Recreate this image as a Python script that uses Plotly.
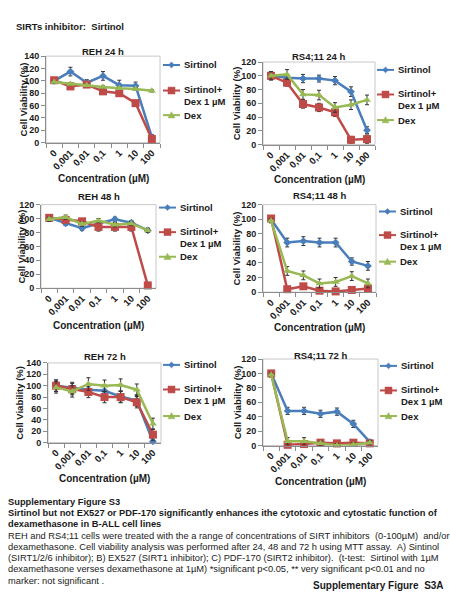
import plotly.graph_objects as go

W, H = 450, 600

# ---------------- data ----------------
concentrations = ["0", "0,001", "0,01", "0,1", "1", "10", "100"]
series_names = ["Sirtinol", "Sirtinol+<br>Dex 1 µM", "Dex"]

reh24_sirt = [100, 115, 97, 108, 93, 92, 9]
reh24_sirt_err = [3, 7, 5, 7, 8, 6, 4]
reh24_combo = [101, 91, 94, 83, 80, 64, 6]
reh24_combo_err = [3, 3, 3, 3, 3, 3, 3]
reh24_dex = [98, 95, 93, 90, 88, 87, 84]
reh24_dex_err = [2, 2, 2, 2, 2, 2, 2]

rs24_sirt = [100, 97, 96, 96, 93, 77, 21]
rs24_sirt_err = [6, 5, 6, 5, 6, 7, 5]
rs24_combo = [100, 90, 59, 54, 47, 7, 8]
rs24_combo_err = [5, 5, 6, 6, 6, 5, 6]
rs24_dex = [100, 102, 73, 72, 54, 58, 65]
rs24_dex_err = [6, 7, 7, 7, 7, 7, 7]

reh48_sirt = [101, 93, 86, 93, 99, 94, 83]
reh48_sirt_err = [3, 3, 3, 3, 3, 3, 3]
reh48_combo = [101, 98, 96, 88, 88, 88, 4]
reh48_combo_err = [3, 3, 3, 6, 6, 6, 3]
reh48_dex = [99, 102, 92, 97, 91, 93, 83]
reh48_dex_err = [3, 3, 3, 3, 3, 3, 3]

rs48_sirt = [100, 68, 70, 68, 68, 42, 36]
rs48_sirt_err = [4, 6, 6, 6, 6, 5, 6]
rs48_combo = [101, 4, 8, 2, 1, 3, 5]
rs48_combo_err = [3, 2, 2, 2, 2, 2, 2]
rs48_dex = [98, 29, 23, 12, 14, 22, 12]
rs48_dex_err = [3, 6, 6, 6, 6, 6, 6]

reh72_sirt = [100, 96, 93, 91, 81, 74, 2]
reh72_sirt_err = [10, 10, 10, 10, 10, 10, 3]
reh72_combo = [100, 94, 89, 80, 80, 71, 14]
reh72_combo_err = [10, 10, 10, 10, 10, 10, 10]
reh72_dex = [97, 90, 103, 100, 101, 93, 33]
reh72_dex_err = [10, 10, 11, 10, 11, 10, 10]

rs72_sirt = [100, 48, 48, 44, 47, 30, 5]
rs72_sirt_err = [3, 5, 5, 5, 5, 5, 3]
rs72_combo = [100, 1, 2, 4, 3, 4, 3]
rs72_combo_err = [2, 2, 2, 2, 2, 2, 2]
rs72_dex = [98, 6, 6, 3, 0, 1, 4]
rs72_dex_err = [3, 5, 5, 3, 3, 3, 3]

# ---------------- styling ----------------
COLORS = ["#4A7EBB", "#BE4B48", "#98B954"]
SYMBOLS = ["diamond", "square", "triangle-up"]
MSIZES = [6, 8, 7]
FONT = "Arial, Liberation Sans, sans-serif"
TXT = "#1a1a1a"

panels = [
    dict(title="REH 24 h", data=[(reh24_sirt, reh24_sirt_err), (reh24_combo, reh24_combo_err), (reh24_dex, reh24_dex_err)],
         ymax=140, box=(46, 160, 52, 140), ty=47, yt=23, xt=176, lx=163, ly=(61, 87, 112)),
    dict(title="RS4;11 24 h", data=[(rs24_sirt, rs24_sirt_err), (rs24_combo, rs24_combo_err), (rs24_dex, rs24_dex_err)],
         ymax=120, box=(263, 375, 58, 142), ty=52, yt=236, xt=177, lx=377, ly=(66, 91, 117)),
    dict(title="REH 48 h", data=[(reh48_sirt, reh48_sirt_err), (reh48_combo, reh48_combo_err), (reh48_dex, reh48_dex_err)],
         ymax=120, box=(41, 156, 203, 288), ty=195, yt=21, xt=326, lx=159, ly=(206, 231, 256)),
    dict(title="RS4;11 48 h", data=[(rs48_sirt, rs48_sirt_err), (rs48_combo, rs48_combo_err), (rs48_dex, rs48_dex_err)],
         ymax=120, box=(263, 376, 203, 292), ty=194, yt=236, xt=328, lx=379, ly=(210, 234, 261)),
    dict(title="REH 72 h", data=[(reh72_sirt, reh72_sirt_err), (reh72_combo, reh72_combo_err), (reh72_dex, reh72_dex_err)],
         ymax=140, box=(48, 161, 364, 445), ty=357, yt=20, xt=482, lx=163, ly=(366, 391, 418)),
    dict(title="RS4;11 72 h", data=[(rs72_sirt, rs72_sirt_err), (rs72_combo, rs72_combo_err), (rs72_dex, rs72_dex_err)],
         ymax=120, box=(263, 378, 360, 448), ty=356, yt=237, xt=485, lx=380, ly=(367, 392, 418)),
]


def px(x):
    return x / W


def py(y):
    return 1 - y / H


fig = go.Figure()
annotations = []
shapes = []

for i, p in enumerate(panels, start=1):
    xa = "x" if i == 1 else f"x{i}"
    ya = "y" if i == 1 else f"y{i}"
    x0, x1, yt0, yb0 = p["box"]
    for s, (vals, errs) in enumerate(p["data"]):
        fig.add_trace(go.Scatter(
            x=concentrations, y=vals, xaxis=xa, yaxis=ya, mode="lines+markers",
            line=dict(color=COLORS[s], width=2.5),
            marker=dict(symbol=SYMBOLS[s], size=MSIZES[s], color=COLORS[s]),
            error_y=dict(type="data", array=errs, visible=True, color="#333333", thickness=1, width=2),
            showlegend=False, cliponaxis=False,
        ))
    axis_x = dict(domain=[px(x0), px(x1)], anchor=ya, type="category", range=[-0.5, 6.5],
                  showline=True, linecolor="#8c8c8c", linewidth=1, ticks="outside", ticklen=4,
                  tickcolor="#8c8c8c", tickson="boundaries", tickangle=-45, showgrid=False, zeroline=False,
                  tickfont=dict(family=FONT, size=9.5, color=TXT, weight="bold"))
    axis_y = dict(domain=[py(yb0), py(yt0)], anchor=xa, range=[0, p["ymax"]], dtick=20,
                  showline=True, linecolor="#8c8c8c", linewidth=1, ticks="outside", ticklen=4,
                  tickcolor="#8c8c8c", showgrid=False, zeroline=False,
                  tickfont=dict(family=FONT, size=9, color=TXT, weight="bold"))
    fig.layout["xaxis" if i == 1 else f"xaxis{i}"] = axis_x
    fig.layout["yaxis" if i == 1 else f"yaxis{i}"] = axis_y

    shapes.append(dict(type="rect", xref=f"{xa} domain", yref=f"{ya} domain", x0=0, x1=1, y0=0, y1=1,
                       line=dict(color="#c8c8c8", width=1), layer="below"))

    cx = (x0 + x1) / 2
    annotations.append(dict(text=f"<b>{p['title']}</b>", x=px(cx), y=py(p["ty"]), xref="paper", yref="paper",
                            showarrow=False, xanchor="center", yanchor="middle",
                            font=dict(family=FONT, size=9.5, color=TXT)))
    annotations.append(dict(text="<b>Cell Viability (%)</b>", x=px(p["yt"]), y=py((yt0 + yb0) / 2),
                            xref="paper", yref="paper", showarrow=False, textangle=-90,
                            xanchor="center", yanchor="middle", font=dict(family=FONT, size=9.5, color=TXT)))
    annotations.append(dict(text="<b>Concentration (µM)</b>", x=px(cx), y=py(p["xt"]), xref="paper", yref="paper",
                            showarrow=False, xanchor="center", yanchor="middle",
                            font=dict(family=FONT, size=10, color=TXT)))

    lx = p["lx"]
    for s in range(3):
        ly = p["ly"][s]
        shapes.append(dict(type="line", xref="paper", yref="paper", x0=px(lx), x1=px(lx + 17), y0=py(ly), y1=py(ly),
                           line=dict(color=COLORS[s], width=2)))
        mx, my = lx + 8.5, ly
        if s == 0:
            r = 3
            path = f"M{px(mx)},{py(my - r)} L{px(mx + r)},{py(my)} L{px(mx)},{py(my + r)} L{px(mx - r)},{py(my)} Z"
        elif s == 1:
            r = 3.5
            path = f"M{px(mx - r)},{py(my - r)} L{px(mx + r)},{py(my - r)} L{px(mx + r)},{py(my + r)} L{px(mx - r)},{py(my + r)} Z"
        else:
            r = 3.5
            path = f"M{px(mx)},{py(my - r)} L{px(mx + r)},{py(my + r * 0.8)} L{px(mx - r)},{py(my + r * 0.8)} Z"
        shapes.append(dict(type="path", xref="paper", yref="paper", path=path,
                           fillcolor=COLORS[s], line=dict(color=COLORS[s], width=0.5)))
        if s == 1:
            annotations.append(dict(text="<b>Sirtinol+<br>Dex 1 µM</b>", x=px(lx + 19), y=py(ly + 5.5),
                                    xref="paper", yref="paper", showarrow=False, xanchor="left", yanchor="middle",
                                    align="left", font=dict(family=FONT, size=9.5, color=TXT)))
        else:
            annotations.append(dict(text=f"<b>{series_names[s]}</b>", x=px(lx + 19), y=py(ly),
                                    xref="paper", yref="paper", showarrow=False, xanchor="left", yanchor="middle",
                                    font=dict(family=FONT, size=9.5, color=TXT)))

annotations.append(dict(text="<b>SIRTs inhibitor:  Sirtinol</b>", x=px(14), y=py(22), xref="paper", yref="paper",
                        showarrow=False, xanchor="left", yanchor="middle", font=dict(family=FONT, size=9.5, color=TXT)))

caption = [
    ("<b>Supplementary Figure S3</b>", 505),
    ("<b>Sirtinol but not EX527 or PDF-170 significantly enhances ithe cytotoxic and cytostatic function of</b>", 516.5),
    ("<b>dexamethasone in B-ALL cell lines</b>", 528),
    ("REH and RS4;11 cells were treated with the a range of concentrations of SIRT inhibitors  (0-100µM)  and/or", 539.5),
    ("dexamethasone. Cell viability analysis was performed after 24, 48 and 72 h using MTT assay.  A) Sintinol", 551),
    ("(SIRT1/2/6 inhibitor); B) EX527 (SIRT1 inhibitor); C) PDF-170 (SIRT2 inhibitor).  (t-test:  Sirtinol with 1µM", 562.5),
    ("dexamethasone verses dexamethasone at 1µM) *significant p<0.05, ** very significant p<0.01 and no", 574),
    ("marker: not significant .", 585.5),
]
for t, y in caption:
    annotations.append(dict(text=t, x=px(6), y=py(y), xref="paper", yref="paper", showarrow=False,
                            xanchor="left", yanchor="middle", font=dict(family=FONT, size=9.3, color=TXT)))
annotations.append(dict(text="<b>Supplementary Figure  S3A</b>", x=px(446), y=py(590), xref="paper", yref="paper",
                        showarrow=False, xanchor="right", yanchor="middle", font=dict(family=FONT, size=10, color=TXT)))

fig.update_layout(width=W, height=H, autosize=False, margin=dict(l=0, r=0, t=0, b=0),
                  paper_bgcolor="white", plot_bgcolor="white", showlegend=False,
                  annotations=annotations, shapes=shapes)

fig.write_html("out.html", config={"displayModeBar": False},
               post_script="document.body.style.margin='0';document.body.style.overflow='hidden';")
